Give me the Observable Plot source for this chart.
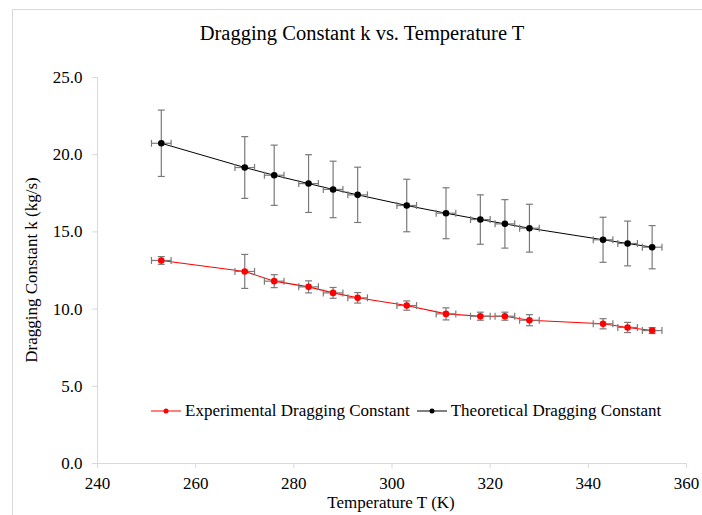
<!DOCTYPE html>
<html>
<head>
<meta charset="utf-8">
<script src="https://cdn.jsdelivr.net/npm/d3@7"></script>
<script src="https://cdn.jsdelivr.net/npm/@observablehq/plot@0.6"></script>
<style>
  body { margin: 0; background: #fff; font-family: "Liberation Serif", "Times New Roman", serif; }
  #wrap { position: relative; width: 702px; height: 515px; overflow: hidden; background: #fff; }
  #frame { position: absolute; left: 12px; top: 9px; width: 800px; height: 700px; border: 1px solid #d9d9d9; pointer-events: none; }
  #title { position: relative; height: 60px; width: 702px; box-sizing: border-box; padding-left: 22px; padding-top: 21px; text-align: center; font-size: 20.5px; line-height: 24px; color: #000; }
  #chart { position: relative; }
  #chart svg { display: block; }
  #chart svg text, #chart svg g { font-family: "Liberation Serif", "Times New Roman", serif !important; font-size: 17px !important; font-variant: normal !important; }
  .ylabel { position: absolute; left: 32px; top: 270px; transform: translate(-50%, -50%) rotate(-90deg); white-space: nowrap; font-size: 17px; }
  .xlabel { position: absolute; left: 391px; top: 503px; transform: translate(-50%, -50%); white-space: nowrap; font-size: 17px; }
  #legend { position: absolute; left: 151px; top: 401px; display: flex; align-items: center; font-size: 17px; white-space: nowrap; line-height: 20px; }
  #legend .item { display: flex; align-items: center; }
  #legend svg { display: block; margin-right: 4px; }
</style>
</head>
<body>
<div id="wrap">
  <div id="frame"></div>
  <div id="title">Dragging Constant k vs. Temperature T</div>
  <div id="chart"></div>
  <div class="ylabel">Dragging Constant k (kg/s)</div>
  <div class="xlabel">Temperature T (K)</div>
  <div id="legend"></div>
</div>
<script>
// ---- data ----
const temperatures = [253, 270, 276, 283, 288, 293, 303, 311, 318, 323, 328, 343, 348, 353];
const temperatureErr = [2, 2, 2, 2, 2, 2, 2, 2, 2, 2, 2, 2, 2, 2];
const experimental = [13.15, 12.44, 11.81, 11.44, 11.05, 10.73, 10.23, 9.69, 9.54, 9.54, 9.28, 9.05, 8.81, 8.61];
const experimentalErr = [0.25, 1.10, 0.42, 0.39, 0.35, 0.34, 0.30, 0.39, 0.26, 0.26, 0.36, 0.33, 0.33, 0.19];
const theoretical = [20.74, 19.17, 18.67, 18.13, 17.75, 17.40, 16.71, 16.21, 15.80, 15.52, 15.24, 14.49, 14.25, 14.01];
const theoreticalErr = [2.15, 2.00, 1.95, 1.87, 1.83, 1.79, 1.70, 1.65, 1.60, 1.57, 1.55, 1.46, 1.45, 1.40];
const seriesNames = ["Experimental Dragging Constant", "Theoretical Dragging Constant"];
const seriesColors = ["#ff0000", "#000000"];
const xTicks = [240, 260, 280, 300, 320, 340, 360];
const yTicks = [0, 5, 10, 15, 20, 25];

// ---- build rows ----
function rows(vals, errs, name) {
  return temperatures.map((t, i) => ({
    series: name, t, k: vals[i], kLo: vals[i] - errs[i], kHi: vals[i] + errs[i],
    tLo: t - temperatureErr[i], tHi: t + temperatureErr[i]
  }));
}
const exp = rows(experimental, experimentalErr, seriesNames[0]);
const theo = rows(theoretical, theoreticalErr, seriesNames[1]);
const all = exp.concat(theo);

// custom cap symbols
const hCap = { draw(ctx, size) { const w = 3.5; ctx.moveTo(-w, 0); ctx.lineTo(w, 0); } };
const vCap = { draw(ctx, size) { const h = 3.5; ctx.moveTo(0, -h); ctx.lineTo(0, h); } };
const barColor = "#7a7a7a";
const serif = "'Liberation Serif', 'Times New Roman', serif";

const plot = Plot.plot({
  width: 702,
  height: 455,
  marginLeft: 97,
  marginRight: 16,
  marginTop: 17,
  marginBottom: 52,
  style: `font-family: ${serif}; font-size: 17px; color: #000; background: transparent;`,
  x: { domain: [240, 360] },
  y: { domain: [0, 25] },
  marks: [
    Plot.ruleX([240], { stroke: "#d9d9d9", strokeWidth: 1 }),
    Plot.ruleY([0], { stroke: "#d9d9d9", strokeWidth: 1 }),
    Plot.axisX({ ticks: xTicks, tickFormat: d => String(d), tickSize: 5, tickPadding: 8, stroke: "#d9d9d9", fill: "#000", label: null, fontFamily: serif, fontSize: 17, fontVariant: "normal" }),
    Plot.axisY({ ticks: yTicks, tickFormat: d => d.toFixed(1), tickSize: 5, tickPadding: 10, stroke: "#d9d9d9", fill: "#000", label: null, fontFamily: serif, fontSize: 17, fontVariant: "normal" }),
    Plot.line(theo, { x: "t", y: "k", stroke: seriesColors[1], strokeWidth: 1 }),
    Plot.line(exp, { x: "t", y: "k", stroke: seriesColors[0], strokeWidth: 1.1 }),
    // vertical error bars
    Plot.link(all, { x1: "t", x2: "t", y1: "kLo", y2: "kHi", stroke: barColor, strokeWidth: 1.2 }),
    Plot.dot(all, { x: "t", y: "kLo", symbol: hCap, r: 4, stroke: barColor, strokeWidth: 1.2, fill: "none" }),
    Plot.dot(all, { x: "t", y: "kHi", symbol: hCap, r: 4, stroke: barColor, strokeWidth: 1.2, fill: "none" }),
    // horizontal error bars
    Plot.link(all, { x1: "tLo", x2: "tHi", y1: "k", y2: "k", stroke: barColor, strokeWidth: 1.2 }),
    Plot.dot(all, { x: "tLo", y: "k", symbol: vCap, r: 4, stroke: barColor, strokeWidth: 1.2, fill: "none" }),
    Plot.dot(all, { x: "tHi", y: "k", symbol: vCap, r: 4, stroke: barColor, strokeWidth: 1.2, fill: "none" }),
    // markers on top
    Plot.dot(theo, { x: "t", y: "k", r: 3.3, fill: seriesColors[1], stroke: "none" }),
    Plot.dot(exp, { x: "t", y: "k", r: 3.3, fill: seriesColors[0], stroke: "none" })
  ]
});
document.getElementById("chart").appendChild(plot);

// legend
const legend = document.getElementById("legend");
seriesNames.forEach((name, i) => {
  const item = document.createElement("div");
  item.className = "item";
  item.style.marginRight = i === 0 ? "7px" : "0";
  item.innerHTML = `<svg width="30" height="10"><line x1="0" y1="5" x2="30" y2="5" stroke="${seriesColors[i]}" stroke-width="1"/><circle cx="15" cy="5" r="2.5" fill="${seriesColors[i]}"/></svg><span>${name}</span>`;
  legend.appendChild(item);
});
</script>
</body>
</html>
